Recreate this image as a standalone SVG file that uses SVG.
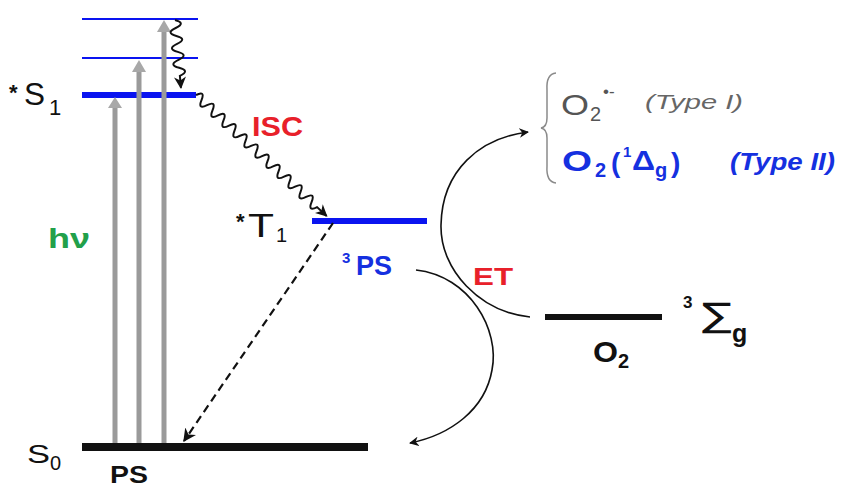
<svg xmlns="http://www.w3.org/2000/svg" width="842" height="487" viewBox="0 0 842 487">
<defs>
<style>
.t{font-family:"Liberation Sans",Arial,sans-serif}
.b{font-weight:bold}
.blk{fill:#111}
.blue{fill:#1530e0}
.red{fill:#e8202a}
.lvlb{stroke:#0a14f0;fill:none}
.gray{stroke:#9a9a9a;stroke-width:5}
.ga{fill:#a8a8a8}
.k{stroke:#111;fill:none}
</style>
<marker id="ah2" viewBox="0 0 10 10" refX="9" refY="5" markerWidth="6" markerHeight="6" orient="auto" markerUnits="strokeWidth">
<path d="M0,0 L10,5 L0,10 L3,5 Z" fill="#111"/>
</marker>
</defs>
<rect width="842" height="487" fill="#ffffff"/>

<g id="levels">
<line class="lvlb" x1="82" y1="19" x2="198" y2="19" stroke-width="2"/>
<line class="lvlb" x1="82" y1="58" x2="198" y2="58" stroke-width="2"/>
<line class="lvlb" x1="82" y1="95" x2="196" y2="95" stroke-width="6"/>
<line class="lvlb" x1="312" y1="221" x2="427" y2="221" stroke-width="6"/>
<line x1="82" y1="447" x2="368" y2="447" stroke="#111" stroke-width="8"/>
<line x1="545" y1="317" x2="662" y2="317" stroke="#111" stroke-width="6"/>
</g>

<g id="S1">
<text class="t b blk" x="9" y="100" font-size="22">*</text>
<text class="t blk" x="24" y="105" font-size="32" textLength="21" lengthAdjust="spacingAndGlyphs">S</text>
<text class="t blk" x="49" y="115" font-size="22">1</text>
</g>
<g id="T1">
<text class="t b blk" x="236" y="229" font-size="22">*</text>
<text class="t blk" x="248" y="237" font-size="34" textLength="26" lengthAdjust="spacingAndGlyphs">T</text>
<text class="t blk" x="276" y="242" font-size="20">1</text>
</g>
<g id="S0">
<text class="t blk" x="27" y="463" font-size="26" textLength="23" lengthAdjust="spacingAndGlyphs">S</text>
<text class="t blk" x="50" y="470" font-size="20">0</text>
<text class="t b blk" x="110" y="483" font-size="24" textLength="38" lengthAdjust="spacingAndGlyphs">PS</text>
</g>
<g id="hv">
<text class="t b" x="48" y="248" font-size="28" fill="#22a04a" textLength="42" lengthAdjust="spacingAndGlyphs">hν</text>
</g>
<g id="ISC">
<text class="t b red" x="252" y="136" font-size="28" textLength="51" lengthAdjust="spacingAndGlyphs">ISC</text>
</g>
<g id="PS3">
<text class="t b blue" x="342" y="263" font-size="15">3</text>
<text class="t b blue" x="356" y="275" font-size="28" textLength="36" lengthAdjust="spacingAndGlyphs">PS</text>
</g>
<g id="ET">
<text class="t b red" x="473" y="285" font-size="24" textLength="40" lengthAdjust="spacingAndGlyphs">ET</text>
</g>
<g id="O2ground">
<text class="t b blk" x="593" y="362" font-size="30" textLength="25" lengthAdjust="spacingAndGlyphs">O</text>
<text class="t b blk" x="618" y="368" font-size="20">2</text>
<text class="t b blk" x="683" y="308" font-size="17">3</text>
<text x="702" y="327" font-size="34" fill="#111" font-family="'DejaVu Sans',sans-serif" textLength="30" lengthAdjust="spacingAndGlyphs">∑</text>
<text class="t b blk" x="732" y="342" font-size="25">g</text>
</g>
<g id="products">
<path d="M556,73 Q546,74 547,90 L547,118 Q547,127 541,128 Q547,129 547,138 L547,166 Q546,182 556,183" fill="none" stroke="#8a8a8a" stroke-width="1.5"/>
<text class="t" x="561" y="115" font-size="30" fill="#555" textLength="28" lengthAdjust="spacingAndGlyphs">O</text>
<text class="t" x="590" y="121" font-size="20" fill="#555">2</text>
<text class="t" x="603" y="97" font-size="17" fill="#555">•-</text>
<text class="t" x="645" y="109" font-size="20" font-style="italic" fill="#666" textLength="98" lengthAdjust="spacingAndGlyphs">(Type I)</text>
<text class="t b blue" x="562" y="171" font-size="30" textLength="30" lengthAdjust="spacingAndGlyphs">O</text>
<text class="t b blue" x="595" y="177" font-size="20">2</text>
<text class="t b blue" x="611" y="172" font-size="28">(</text>
<text class="t b blue" x="623" y="157" font-size="15">1</text>
<text class="t b blue" x="632" y="170" font-size="28" textLength="23" lengthAdjust="spacingAndGlyphs">Δ</text>
<text class="t b blue" x="655" y="177" font-size="20">g</text>
<text class="t b blue" x="671" y="172" font-size="28">)</text>
<text class="t b blue" x="730" y="170" font-size="24" font-style="italic" textLength="105" lengthAdjust="spacingAndGlyphs">(Type II)</text>
</g>

<g id="connectors">
<line class="gray" x1="115" y1="443" x2="115" y2="106"/>
<polygon class="ga" points="108,108 115,97 122,108"/>
<line class="gray" x1="139" y1="443" x2="139" y2="70"/>
<polygon class="ga" points="132,72 139,60 146,72"/>
<line class="gray" x1="164" y1="443" x2="164" y2="30"/>
<polygon class="ga" points="157,32 164,20 171,32"/>

<path class="k" stroke-width="2" marker-end="url(#ah2)" transform="translate(175,20) rotate(85)" d="M0,0 q4,-11 8,0 q4,11 8,0 q4,-11 8,0 q4,11 8,0 q4,-11 8,0 q4,11 8,0 q4,-11 8,0 l12,0"/>

<path class="k" stroke-width="2" marker-end="url(#ah2)" transform="translate(196,95) rotate(42.8)" d="M0,0 q3.75,-10 7.5,0 q3.75,10 7.5,0 q3.75,-10 7.5,0 q3.75,10 7.5,0 q3.75,-10 7.5,0 q3.75,10 7.5,0 q3.75,-10 7.5,0 q3.75,10 7.5,0 q3.75,-10 7.5,0 q3.75,10 7.5,0 q3.75,-10 7.5,0 q3.75,10 7.5,0 q3.75,-10 7.5,0 q3.75,10 7.5,0 q3.75,-10 7.5,0 q3.75,10 7.5,0 q3.75,-10 7.5,0 q3.75,10 7.5,0 q3.75,-10 7.5,0 q3.75,10 7.5,0 q3.75,-10 7.5,0 q3.75,10 7.5,0 l13,0"/>

<path class="k" stroke-width="2.2" stroke-dasharray="8,5" marker-end="url(#ah2)" d="M333,223 L184,441"/>

<path class="k" stroke-width="1.6" marker-end="url(#ah2)" d="M530,317 C480,312 440,270 441,225 C442,170 480,138 528,132"/>
<path class="k" stroke-width="1.6" marker-end="url(#ah2)" d="M416,270 C470,276 500,330 492,370 C485,410 450,435 410,443"/>
</g>
</svg>
